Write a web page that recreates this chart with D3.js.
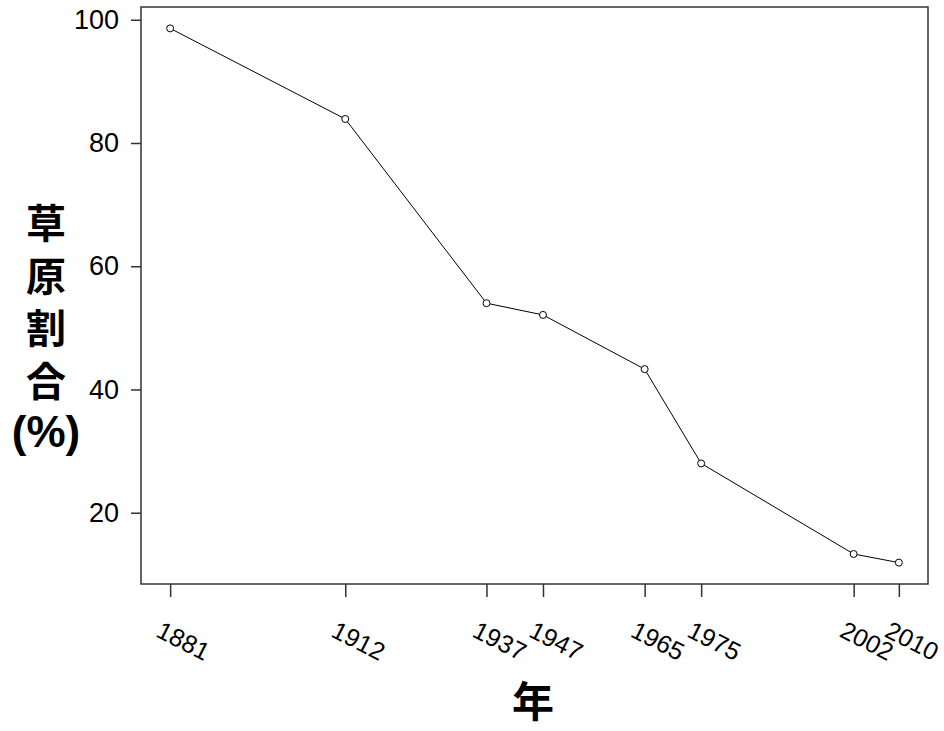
<!DOCTYPE html>
<html>
<head>
<meta charset="utf-8">
<script src="https://cdn.jsdelivr.net/npm/d3@7"></script>
<style>
  html, body { margin: 0; padding: 0; background: #fff; }
  svg { display: block; }
</style>
</head>
<body>
<svg id="chart" width="944" height="731"></svg>
<script>
const years = [1881, 1912, 1937, 1947, 1965, 1975, 2002, 2010];
const values = [98.6, 83.9, 54.0, 52.1, 43.3, 28.0, 13.3, 11.9];
const yTicks = [20, 40, 60, 80, 100];
const tickLabels = ["1881", "1912", "1937", "1947", "1965", "1975", "2002", "2010"];
const yLabelChars = ["草", "原", "割", "合", "(%)"];
const xLabel = "年";

(function () {
const svg = d3.select("#chart");
const mLeft = 141, mRight = 928, mTop = 7, mBottom = 584;

const x = d3.scaleLinear().domain([1875.84, 2015.16]).range([mLeft, mRight]);
const y = d3.scaleLinear().domain([8.43, 102.07]).range([mBottom, mTop]);

const axisColor = "#333";
const numFont = "'Liberation Sans', Arial, sans-serif";
const cjkFont = "'Noto Sans CJK JP', 'Noto Sans CJK SC', sans-serif";

// frame
svg.append("rect")
  .attr("x", mLeft).attr("y", mTop)
  .attr("width", mRight - mLeft).attr("height", mBottom - mTop)
  .attr("fill", "none").attr("stroke", axisColor).attr("stroke-width", 1.5);

// y axis
const yAxis = svg.append("g")
  .attr("transform", `translate(${mLeft},0)`)
  .call(d3.axisLeft(y).tickValues(yTicks).tickSize(10).tickPadding(12).tickFormat(d3.format("d")));
yAxis.select(".domain").remove();
yAxis.selectAll(".tick line").attr("stroke", axisColor).attr("stroke-width", 1.5);
yAxis.selectAll(".tick text")
  .attr("font-family", numFont).attr("font-size", 27).attr("fill", "#000");

// x axis
const xAxis = svg.append("g")
  .attr("transform", `translate(0,${mBottom})`)
  .call(d3.axisBottom(x).tickValues(years).tickSize(13).tickFormat((d, i) => tickLabels[i]));
xAxis.select(".domain").remove();
xAxis.selectAll(".tick line").attr("stroke", axisColor).attr("stroke-width", 1.5);
xAxis.selectAll(".tick text")
  .attr("font-family", numFont).attr("font-size", 25).attr("fill", "#000")
  .attr("text-anchor", "start")
  .attr("dy", null)
  .attr("y", null)
  .attr("transform", "translate(-16,52) rotate(27)");

// line
svg.append("path")
  .datum(years.map((yr, i) => [yr, values[i]]))
  .attr("fill", "none").attr("stroke", "#000").attr("stroke-width", 1)
  .attr("d", d3.line().x(d => x(d[0])).y(d => y(d[1])));

// points
svg.selectAll("circle.pt")
  .data(years.map((yr, i) => [yr, values[i]]))
  .enter().append("circle")
  .attr("class", "pt")
  .attr("cx", d => x(d[0])).attr("cy", d => y(d[1]))
  .attr("r", 3.5)
  .attr("fill", "#fff").attr("stroke", "#000").attr("stroke-width", 1);

// y label (stacked)
svg.append("g").selectAll("text")
  .data(yLabelChars)
  .enter().append("text")
  .attr("x", 46)
  .attr("y", (d, i) => 221 + i * 52.5)
  .attr("text-anchor", "middle")
  .attr("dominant-baseline", "central")
  .attr("font-family", (d, i) => i === yLabelChars.length - 1 ? numFont : cjkFont)
  .attr("font-weight", "bold")
  .attr("font-size", (d, i) => i === yLabelChars.length - 1 ? 44 : 40)
  .text(d => d);

// x label
svg.append("text")
  .attr("x", 533).attr("y", 717)
  .attr("text-anchor", "middle")
  .attr("font-family", cjkFont)
  .attr("font-weight", "bold")
  .attr("font-size", 42)
  .text(xLabel);
})();
</script>
</body>
</html>
